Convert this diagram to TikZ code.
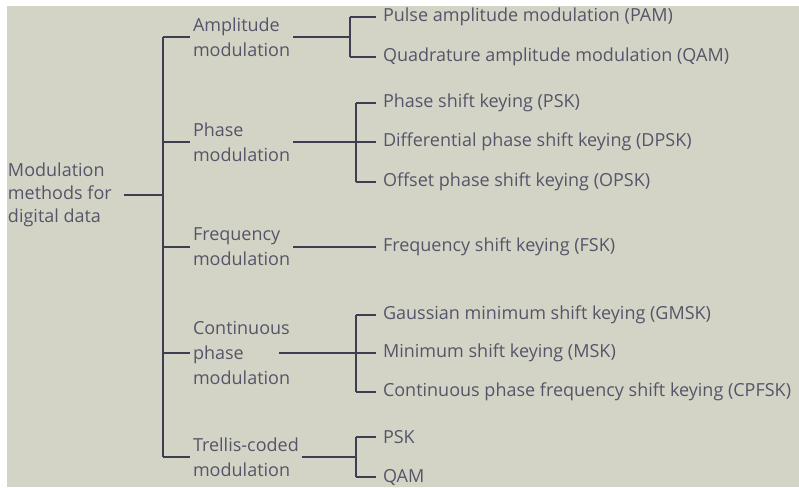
\documentclass[tikz,border=0pt]{standalone}
\usepackage{fontspec}
\setmainfont{Open Sans}

\definecolor{bgcol}{HTML}{D4D4C6}
\definecolor{txtcol}{HTML}{55556A}
\definecolor{linecol}{HTML}{3E3E52}

\tikzset{
  textbox/.style={font=\fontsize{18}{25}\selectfont, text=txtcol, align=left, inner sep=0pt, anchor=west},
  rootbox/.style={textbox, outer xsep=12pt},
  methodbox/.style={textbox, outer xsep=3pt},
  leafbox/.style={textbox, outer xsep=7pt},
  wire/.style={draw=linecol, line width=1.5pt}
}

\begin{document}
\begin{tikzpicture}[x=1pt, y=-1pt]
  % Define the bar positions
  \def\trunkx{163}
  \def\barx{356}

  \useasboundingbox (0,0) rectangle (799,487);
  \fill[bgcol] (7,6) rectangle (799,487);

  % Root
  \node[rootbox, font=\fontsize{18}{23}\selectfont] (root) at (-4,195) {Modulation\\methods for\\digital data};
  \coordinate (trunk) at (\trunkx,195);

  % Methods
  \node[methodbox] (amp) at (190,37) {Amplitude\\modulation};
  \node[methodbox] (phase) at (190,142) {Phase\\modulation};
  \node[methodbox] (freq) at (190,247) {Frequency\\modulation};
  \node[methodbox] (cont) at (190,353) {Continuous\\phase\\modulation};
  \node[methodbox] (trel) at (190,457) {Trellis-coded\\modulation};

  % Leaves
  \node[leafbox] (pam) at (376,17) {Pulse amplitude modulation (PAM)};
  \node[leafbox] (qam) at (376,57) {Quadrature amplitude modulation (QAM)};
  \node[leafbox] (psk) at (376,103) {Phase shift keying (PSK)};
  \node[leafbox] (dpsk) at (376,142) {Differential phase shift keying (DPSK)};
  \node[leafbox] (opsk) at (376,182) {Offset phase shift keying (OPSK)};
  \node[leafbox] (fsk) at (376,247) {Frequency shift keying (FSK)};
  \node[leafbox] (gmsk) at (376,315) {Gaussian minimum shift keying (GMSK)};
  \node[leafbox] (msk) at (376,353) {Minimum shift keying (MSK)};
  \node[leafbox] (cpfsk) at (376,392) {Continuous phase frequency shift keying (CPFSK)};
  \node[leafbox] (tpsk) at (376,437) {PSK};
  \node[leafbox] (tqam) at (376,477) {QAM};

  % Bars
  \coordinate (bara) at (350,37);
  \coordinate (barp) at (\barx,142);
  \coordinate (barc) at (\barx,353);
  \coordinate (bart) at (\barx,457);

  % Trunk
  \draw[wire] (root.east) -- (trunk);
  \draw[wire] (trunk |- amp.west) -- (trunk |- trel.west);
  \foreach \m in {amp,phase,freq,cont,trel}
    \draw[wire] (trunk |- \m.west) -- (\m.west);

  % Amplitude
  \draw[wire] (amp.east) -- (bara);
  \draw[wire] (bara |- pam.west) -- (bara |- qam.west);
  \foreach \l in {pam,qam}
    \draw[wire] (bara |- \l.west) -- (\l.west);

  % Phase
  \draw[wire] (phase.east) -- (barp);
  \draw[wire] (barp |- psk.west) -- (barp |- opsk.west);
  \foreach \l in {psk,dpsk,opsk}
    \draw[wire] (barp |- \l.west) -- (\l.west);

  % Frequency
  \draw[wire] (freq.east) -- (fsk.west);

  % Continuous phase
  \draw[wire, shorten <=-14pt] (cont.east) -- (barc);
  \draw[wire] (barc |- gmsk.west) -- (barc |- cpfsk.west);
  \foreach \l in {gmsk,msk,cpfsk}
    \draw[wire] (barc |- \l.west) -- (\l.west);

  % Trellis
  \draw[wire] (trel.east) -- (bart);
  \draw[wire] (bart |- tpsk.west) -- (bart |- tqam.west);
  \foreach \l in {tpsk,tqam}
    \draw[wire] (bart |- \l.west) -- (\l.west);
\end{tikzpicture}
\end{document}
